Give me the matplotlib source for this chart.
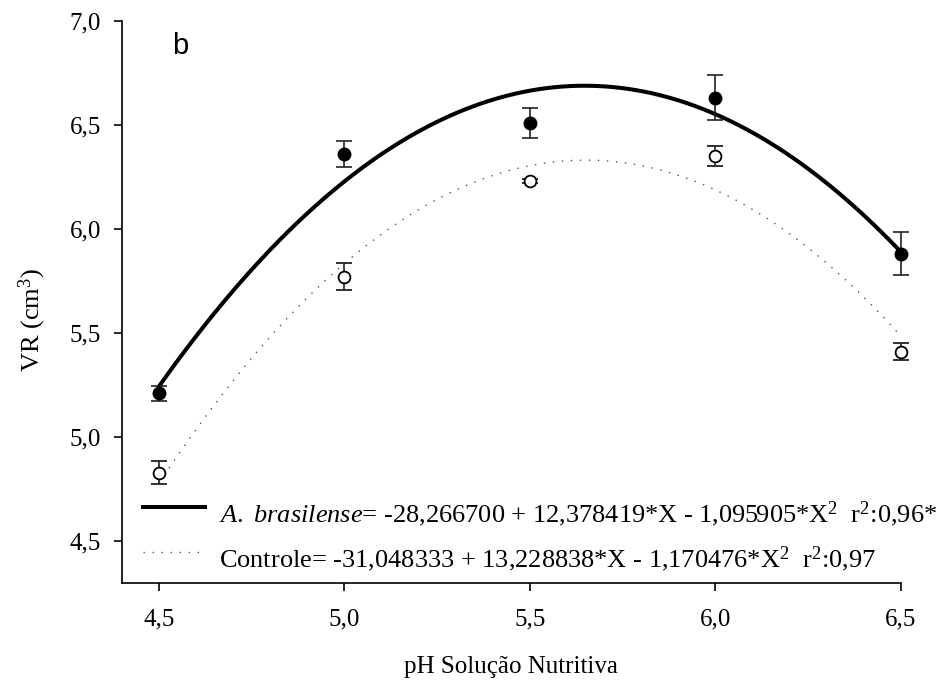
"""Root volume vs nutrient solution pH, with quadratic fits"""

import numpy as np
import matplotlib
matplotlib.use("Agg")
import matplotlib.pyplot as plt

plt.rcParams["font.family"] = "Liberation Serif"
plt.rcParams["mathtext.fontset"] = "custom"
plt.rcParams["mathtext.rm"] = "Liberation Serif"
plt.rcParams["mathtext.it"] = "Liberation Serif:italic"

# measured means and standard errors
ph = [4.5, 5.0, 5.5, 6.0, 6.5]
vr_azo = [5.21, 6.36, 6.51, 6.63, 5.88]
err_azo = [0.035, 0.062, 0.072, 0.108, 0.103]
vr_ctrl = [4.83, 5.77, 6.23, 6.35, 5.41]
err_ctrl = [0.056, 0.064, 0.010, 0.048, 0.041]

# regression coefficients (c0, c1, c2)
coef_azo = [-28.266700, 12.378419, -1.095905]
coef_ctrl = [-31.048333, 13.228838, -1.170476]

label_azo = r"$\mathit{A.}$ $\mathit{brasilense}$= -28,266700 + 12,378419*X - 1,095905*X$^2$  r$^2$:0,96*"
label_ctrl = r"Controle= -31,048333 + 13,228838*X - 1,170476*X$^2$  r$^2$:0,97"

DOTS = (0, (1, 5.5))


def quad(coef, x):
    return coef[0] + coef[1] * x + coef[2] * x ** 2


fig = plt.figure(figsize=(9.45, 6.87), dpi=100)
ax = fig.add_axes([0.129, 0.1514, 0.824, 0.8186])

xs = np.linspace(4.5, 6.5, 200)
ax.plot(xs, quad(coef_azo, xs), color="black", lw=2.9, zorder=2, clip_on=False)
ax.plot(xs, quad(coef_ctrl, xs), color="#555555", lw=1.0, linestyle=DOTS, zorder=2)

ax.errorbar(ph, vr_azo, yerr=err_azo, fmt="o", color="black", markersize=9,
            ecolor="#222222", elinewidth=1.2, capsize=6, capthick=1.2,
            zorder=3, clip_on=False)
ax.errorbar(ph, vr_ctrl, yerr=err_ctrl, fmt="o", color="black", mfc="white",
            markersize=8.5, markeredgewidth=1.3, ecolor="#222222",
            elinewidth=1.2, capsize=6, capthick=1.2, zorder=3, clip_on=False)

ax.set_xlim(4.4, 6.5)
ax.set_ylim(4.3, 7.0)
ax.set_xticks([4.5, 5.0, 5.5, 6.0, 6.5])
ax.set_xticklabels(["4,5", "5,0", "5,5", "6,0", "6,5"])
ax.set_yticks([4.5, 5.0, 5.5, 6.0, 6.5, 7.0])
ax.set_yticklabels(["4,5", "5,0", "5,5", "6,0", "6,5", "7,0"])
ax.tick_params(direction="out", length=6, width=1.2, labelsize=18)
ax.tick_params(axis="x", pad=12)
ax.tick_params(axis="y", pad=9)
for side in ["top", "right"]:
    ax.spines[side].set_visible(False)
for side in ["left", "bottom"]:
    ax.spines[side].set_linewidth(1.2)

ax.set_xlabel("pH Solução Nutritiva", fontsize=18)
ax.xaxis.set_label_coords(0.5, -0.13)
ax.set_ylabel("VR (cm$^3$)", fontsize=19)
ax.yaxis.set_label_coords(-0.095, 0.467)

ax.text(0.064, 0.94, "b", transform=ax.transAxes, fontsize=21,
        family="Liberation Sans", va="baseline")

# legend drawn by hand: line samples and equations
ax.plot([0.027, 0.1065], [0.135, 0.135], transform=ax.transAxes,
        color="black", lw=2.9, clip_on=False)
ax.plot([0.027, 0.100], [0.055, 0.055], transform=ax.transAxes,
        color="#555555", lw=1.0, linestyle=DOTS, clip_on=False)
ax.text(0.1245, 0.1085, label_azo, transform=ax.transAxes, fontsize=19,
        va="baseline")
ax.text(0.1245, 0.0285, label_ctrl, transform=ax.transAxes, fontsize=19,
        va="baseline")

fig.savefig("out.png", dpi=100)
